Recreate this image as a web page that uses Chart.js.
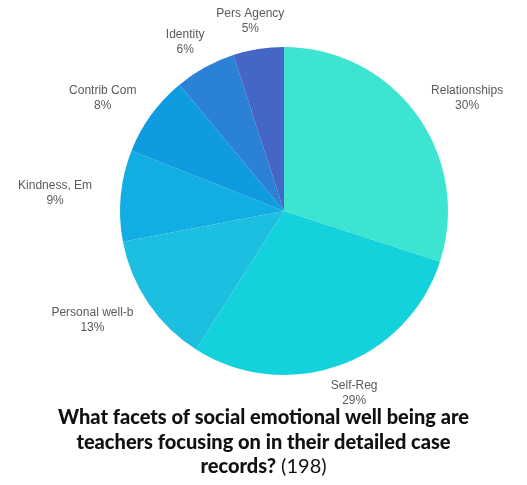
<!DOCTYPE html>
<html>
<head>
<meta charset="utf-8">
<script src="https://cdn.jsdelivr.net/npm/chart.js@4"></script>
<style>
  html, body { margin: 0; padding: 0; background: #ffffff; }
  #wrap { width: 527px; height: 485px; }
</style>
</head>
<body>
<div id="wrap"><canvas id="chart" width="527" height="485"></canvas></div>
<script>
const facetLabels = ['Relationships', 'Self-Reg', 'Personal well-b', 'Kindness, Em', 'Contrib Com', 'Identity', 'Pers Agency'];
const facetShares = [30, 29, 13, 9, 8, 6, 5];
const sliceColors = ['#3ee4d2', '#13d2dc', '#1cbfe0', '#12ade2', '#0f9be0', '#2a81d6', '#4466c6'];
const titleLines = ['What facets of social emotional well being are', 'teachers focusing on in their detailed case', 'records?'];
const titleCount = ' (198)';

const LabelColor = '#5a5a5a';

// names + percent outside each slice
const outsideLabels = {
    id: 'outsideLabels',
    afterDatasetsDraw(chart) {
        const ctx = chart.ctx;
        const meta = chart.getDatasetMeta(0);
        const total = facetShares.reduce((a, b) => a + b, 0);
        ctx.save();
        ctx.font = '12px "Liberation Sans", Arial, sans-serif';
        ctx.fillStyle = LabelColor;
        ctx.textAlign = 'center';
        ctx.textBaseline = 'middle';
        meta.data.forEach((arc, i) => {
            const mid = (arc.startAngle + arc.endAngle) / 2;
            const cos = Math.cos(mid);
            const sin = Math.sin(mid);
            const pct = Math.round(facetShares[i] / total * 100) + '%';
            const w = Math.max(ctx.measureText(facetLabels[i]).width, ctx.measureText(pct).width);
            const h = 28;
            const r = arc.outerRadius + 15;
            const cx = arc.x + r * cos + cos * (w / 2 + 14 * Math.abs(cos));
            const cy = arc.y + r * sin + sin * (h / 2);
            ctx.fillText(facetLabels[i], cx, cy - 7);
            ctx.fillText(pct, cx, cy + 8);
        });
        ctx.restore();
    }
};

// caption under the pie, last line mixes bold + normal
const caption = {
    id: 'caption',
    afterDraw(chart) {
        const ctx = chart.ctx;
        const midX = chart.width / 2;
        const boldFont = '900 20px Lato, "DejaVu Sans", sans-serif';
        const plainFont = '400 20px Lato, "DejaVu Sans", sans-serif';
        ctx.save();
        ctx.fillStyle = '#111111';
        ctx.textBaseline = 'middle';
        ctx.textAlign = 'center';
        ctx.font = boldFont;
        ctx.fillText(titleLines[0], midX, 418);
        ctx.fillText(titleLines[1], midX, 443);
        const boldW = ctx.measureText(titleLines[2]).width;
        ctx.font = plainFont;
        const plainW = ctx.measureText(titleCount).width;
        const startX = midX - (boldW + plainW) / 2;
        ctx.textAlign = 'left';
        ctx.font = boldFont;
        ctx.fillText(titleLines[2], startX, 467);
        ctx.font = plainFont;
        ctx.fillText(titleCount, startX + boldW, 467);
        ctx.restore();
    }
};

new Chart(document.getElementById('chart'), {
    type: 'pie',
    data: {
        labels: facetLabels,
        datasets: [{
            data: facetShares,
            backgroundColor: sliceColors,
            borderWidth: 0
        }]
    },
    options: {
        responsive: false,
        animation: false,
        layout: {
            padding: { left: 120, right: 79, top: 47, bottom: 110 }
        },
        plugins: {
            legend: { display: false },
            tooltip: { enabled: false },
            title: { display: false }
        }
    },
    plugins: [outsideLabels, caption]
});
</script>
</body>
</html>
